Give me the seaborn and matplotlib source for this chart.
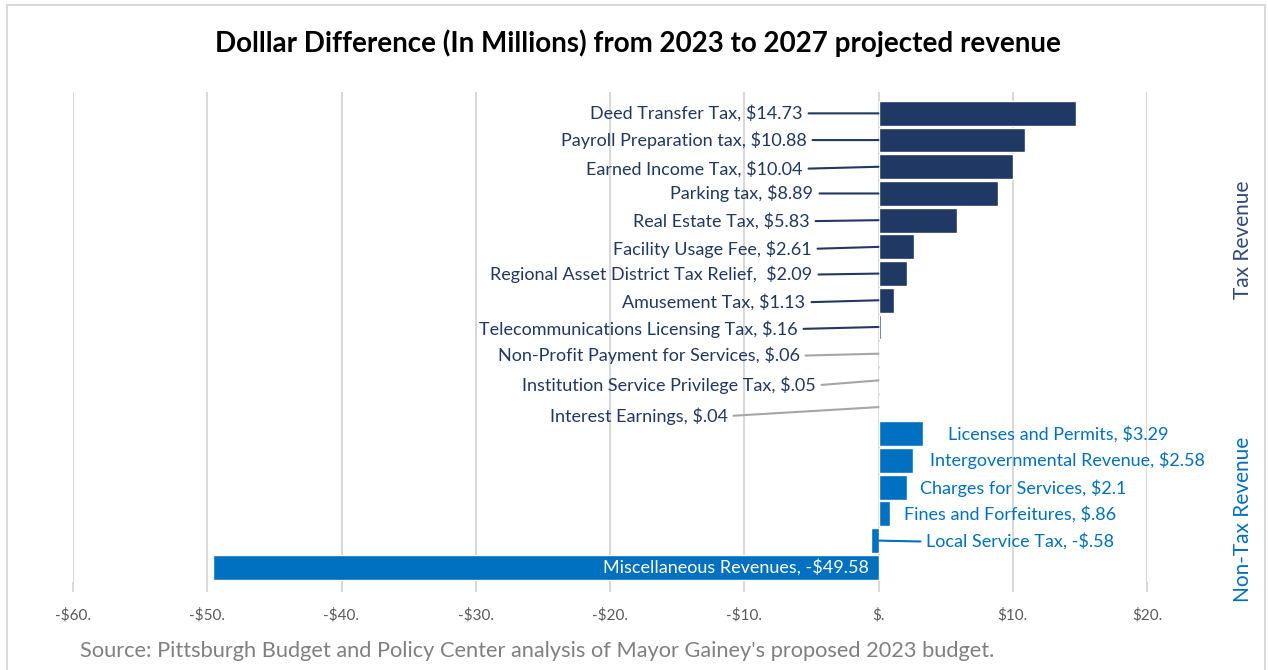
import matplotlib
matplotlib.use("Agg")
import matplotlib.pyplot as plt
from matplotlib.patches import Rectangle
from matplotlib.ticker import FuncFormatter
import numpy as np
import pandas as pd
import seaborn as sns

categories = [
    "Deed Transfer Tax", "Payroll Preparation tax", "Earned Income Tax", "Parking tax",
    "Real Estate Tax", "Facility Usage Fee", "Regional Asset District Tax Relief, ",
    "Amusement Tax", "Telecommunications Licensing Tax", "Non-Profit Payment for Services",
    "Institution Service Privilege Tax", "Interest Earnings", "Licenses and Permits",
    "Intergovernmental Revenue", "Charges for Services", "Fines and Forfeitures",
    "Local Service Tax", "Miscellaneous Revenues",
]
values = [14.73, 10.88, 10.04, 8.89, 5.83, 2.61, 2.09, 1.13, 0.16, 0.06, 0.05, 0.04,
          3.29, 2.58, 2.1, 0.86, -0.58, -49.58]
groups = ["Tax Revenue"] * 12 + ["Non-Tax Revenue"] * 6
x_ticks = [-60, -50, -40, -30, -20, -10, 0, 10, 20]

TITLE = "Dolllar Difference (In Millions) from 2023 to 2027 projected revenue"
SOURCE = "Source: Pittsburgh Budget and Policy Center analysis of Mayor Gainey's proposed 2023 budget."

NAVY = "#203864"
BLUE = "#0070C0"
GRAY = "#A6A6A6"

# label placement (pixels from the bar base at x=0), line colour or None
label_dx = [-76, -72, -76, -65, -69, -67, -66, -73, -81, -79, -63, -151,
            69, 52, 41, 25, 48, -10]
label_dy = [0, 0, -2, 0, -1, -2, -1, -2, -2, -2, -5, -9, 0, 0, -1, 0, -1, 0]
leader = [NAVY] * 9 + [GRAY] * 3 + [None] * 4 + [BLUE, None]


def money(v):
    s = f"{abs(v):.2f}".rstrip("0").lstrip("0")
    return ("-$" if v < 0 else "$") + s


df = pd.DataFrame({"category": categories, "value": values, "group": groups})

sns.set_theme(style="whitegrid")
plt.rcParams["font.family"] = ["Lato", "DejaVu Sans"]

fig = plt.figure(figsize=(12.68, 6.7), dpi=100)
ax = fig.add_axes([73 / 1268, 88 / 670, 1074 / 1268, 490 / 670])

sns.barplot(data=df, y="category", x="value", hue="group", orient="h",
            palette={"Tax Revenue": NAVY, "Non-Tax Revenue": BLUE},
            dodge=False, width=0.93, saturation=1, legend=False, ax=ax)

ax.set_xlim(-60, 20)
ax.set_ylim(17.55, -0.8)
ax.set_xticks(x_ticks)
ax.xaxis.set_major_formatter(FuncFormatter(lambda v, _: money(v)))
ax.set_yticks([])
ax.set_xlabel("")
ax.set_ylabel("")
ax.grid(axis="x", color="#D9D9D9", linewidth=1.5)
ax.grid(axis="y", visible=False)
ax.set_facecolor("white")
for sp in ax.spines.values():
    sp.set_visible(False)
ax.tick_params(axis="x", length=7, width=1.5, color="#D9D9D9", pad=12,
               labelsize=11, labelcolor="#595959", bottom=True, direction="out")

for i, (cat, val, grp) in enumerate(zip(categories, values, groups)):
    text = f"{cat}, {money(val)}" if not cat.endswith(", ") else f"{cat} {money(val)}"
    dx, dy = label_dx[i], label_dy[i]
    if grp == "Tax Revenue":
        color, ha = NAVY, "right"
    elif val < -10:
        color, ha = "white", "right"
    else:
        color, ha = BLUE, "left"
    arrow = None
    if leader[i] is not None:
        arrow = dict(arrowstyle="-", color=leader[i], lw=1.5, shrinkA=2, shrinkB=0,
                     relpos=(1, 0.5) if ha == "right" else (0, 0.5))
    ax.annotate(text, xy=(0, i), xytext=(dx, dy), textcoords="offset pixels",
                ha=ha, va="center", fontsize=13, color=color,
                arrowprops=arrow, annotation_clip=False)

fig.text(0.503, 1 - 43 / 670, TITLE, ha="center", va="center",
         fontsize=20, fontweight="bold", color="black")
fig.text(1243 / 1268, 1 - 240 / 670, "Tax Revenue", rotation=90, ha="center",
         va="center", fontsize=15, color="#2F4A7A")
fig.text(1243 / 1268, 1 - 519 / 670, "Non-Tax Revenue", rotation=90, ha="center",
         va="center", fontsize=15, color=BLUE)
fig.text(80 / 1268, 1 - 651 / 670, SOURCE, ha="left", va="center",
         fontsize=15.7, color="#808080")

fig.patches.append(Rectangle((7 / 1268, -0.01), 1258 / 1268, 1 - 5 / 670 + 0.01,
                             transform=fig.transFigure, fill=False,
                             edgecolor="#D9D9D9", linewidth=1.5))

fig.savefig("out.png", dpi=100)
